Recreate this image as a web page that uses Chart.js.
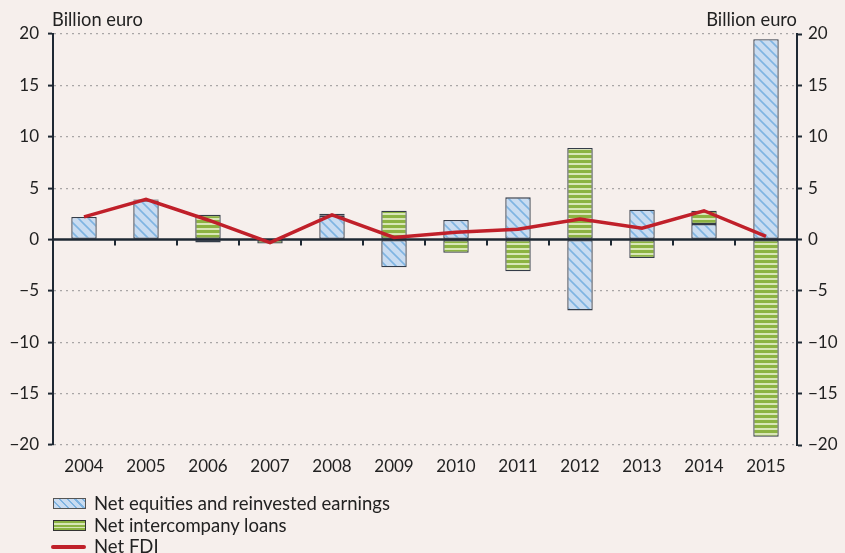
<!DOCTYPE html>
<html>
<head>
<meta charset="utf-8">
<script src="https://cdn.jsdelivr.net/npm/chart.js@4.4.1/dist/chart.umd.min.js"></script>
<style>
  body { margin: 0; background: #f6efec; font-family: Lato, "Open Sans", sans-serif; color: #222; }
  #wrap { position: relative; width: 845px; height: 553px; }
  #chart { position: absolute; left: 0; top: 0; }
  .unit { position: absolute; top: 7px; font-size: 18.3px; line-height: 24px; }
  #legend { position: absolute; left: 53px; top: 493px; font-size: 18.5px; }
  .row { height: 21.5px; line-height: 21.5px; display: flex; align-items: center; }
  .sw { width: 31px; height: 9px; margin-right: 8px; border: 1px solid #555; }
  .sw.eq { background: repeating-linear-gradient(45deg, #c9dcf1 0 4px, #7fb4e2 4px 5.5px); }
  .sw.ln { background: repeating-linear-gradient(0deg, #8cb342 0 2px, #d8e6b6 2px 3.5px); border-color: #333; }
  .sw.fdi { width: 35px; height: 3.5px; margin-left: -2px; border: none; background: #c0202a; border-radius: 2px; }
</style>
</head>
<body>
<div id="wrap">
  <canvas id="chart" width="845" height="553"></canvas>
  <div class="unit" style="left:52px">Billion euro</div>
  <div class="unit" style="right:48px">Billion euro</div>
  <div id="legend">
    <div class="row"><span class="sw eq"></span>Net equities and reinvested earnings</div>
    <div class="row"><span class="sw ln"></span>Net intercompany loans</div>
    <div class="row"><span class="sw fdi"></span>Net FDI</div>
  </div>
</div>
<script>
var years = ["2004", "2005", "2006", "2007", "2008", "2009", "2010", "2011", "2012", "2013", "2014", "2015"];
var equities = [2.2, 3.8, -0.3, 0.0, 2.3, -2.7, 1.9, 4.1, -6.9, 2.9, 1.5, 19.5];
var loans = [0.0, 0.1, 2.4, -0.4, 0.2, 2.8, -1.3, -3.1, 8.9, -1.8, 1.3, -19.2];
var netFdi = [2.2, 3.9, 1.9, -0.3, 2.4, 0.2, 0.7, 1.0, 2.0, 1.1, 2.8, 0.3];
var yTicks = [-20, -15, -10, -5, 0, 5, 10, 15, 20];

// patterns for the bars
function hatchPattern() {
  var c = document.createElement("canvas");
  c.width = 10; c.height = 10;
  var g = c.getContext("2d");
  g.fillStyle = "#c9dcf1";
  g.fillRect(0, 0, 10, 10);
  g.strokeStyle = "#7fb4e2";
  g.lineWidth = 1.6;
  g.beginPath();
  g.moveTo(-2, -2); g.lineTo(12, 12);
  g.moveTo(-2, 8); g.lineTo(2, 12);
  g.moveTo(8, -2); g.lineTo(12, 2);
  g.stroke();
  return g.createPattern(c, "repeat");
}
function stripePattern() {
  var c = document.createElement("canvas");
  c.width = 4; c.height = 5;
  var g = c.getContext("2d");
  g.fillStyle = "#8cb342";
  g.fillRect(0, 0, 4, 5);
  g.fillStyle = "#d8e6b6";
  g.fillRect(0, 3, 4, 2);
  return g.createPattern(c, "repeat");
}

var minus = function (v) { return String(v).replace("-", "\u2212"); };

var zeroAxis = {
  id: "zeroAxis",
  beforeDatasetsDraw: function (chart) {
    var ctx = chart.ctx, x = chart.scales.x, y = chart.scales.y;
    var y0 = y.getPixelForValue(0);
    ctx.save();
    ctx.strokeStyle = "#1e2833";
    ctx.lineWidth = 2.5;
    ctx.beginPath();
    ctx.moveTo(chart.chartArea.left, y0);
    ctx.lineTo(chart.chartArea.right, y0);
    ctx.stroke();
    ctx.lineWidth = 2;
    ctx.beginPath();
    for (var i = 1; i < years.length; i++) {
      var xb = (x.getPixelForValue(i - 1) + x.getPixelForValue(i)) / 2;
      ctx.moveTo(xb, y0);
      ctx.lineTo(xb, y0 + 6);
    }
    ctx.stroke();
    ctx.restore();
  }
};

var tickFont = { family: "Lato, 'Open Sans', sans-serif", size: 17 };

new Chart(document.getElementById("chart"), {
  data: {
    labels: years,
    datasets: [
      {
        type: "line",
        label: "Net FDI",
        data: netFdi,
        borderColor: "#c0202a",
        borderWidth: 3.5,
        pointRadius: 0,
        tension: 0,
        stack: "fdi",
        order: 0,
      },
      {
        type: "bar",
        label: "Net equities and reinvested earnings",
        data: equities,
        backgroundColor: hatchPattern(),
        borderColor: "#343c48",
        borderWidth: 1.3,
        borderSkipped: false,
        barPercentage: 0.41,
        categoryPercentage: 1,
        stack: "fdiParts",
        order: 1,
      },
      {
        type: "bar",
        label: "Net intercompany loans",
        data: loans,
        backgroundColor: stripePattern(),
        borderColor: "#343c48",
        borderWidth: 1.3,
        borderSkipped: false,
        barPercentage: 0.41,
        categoryPercentage: 1,
        stack: "fdiParts",
        order: 1,
      },
    ],
  },
  options: {
    responsive: false,
    animation: false,
    layout: { padding: { top: 34, bottom: 78, left: 0, right: 0 } },
    plugins: { legend: { display: false }, tooltip: { enabled: false } },
    scales: {
      x: {
        stacked: true,
        grid: { display: false },
        border: { display: false },
        ticks: { color: "#222", font: tickFont, padding: 3 },
        afterFit: function (s) { s.height = 30; },
      },
      y: {
        position: "left",
        stacked: true,
        min: -20,
        max: 20,
        afterBuildTicks: function (s) { s.ticks = yTicks.map(function (v) { return { value: v }; }); },
        ticks: { color: "#222", font: tickFont, padding: 9, callback: minus },
        grid: {
          color: function (c) { return c.tick && c.tick.value === 0 ? "rgba(0,0,0,0)" : "#a9a6a6"; },
          lineWidth: 1.2,
          tickColor: "#1e2833",
          tickLength: 5,
          tickWidth: 2,
          tickBorderDash: [],
        },
        border: { color: "#1e2833", width: 2, dash: [2, 4] },
        afterFit: function (s) { s.width = 53; },
      },
      y2: {
        position: "right",
        min: -20,
        max: 20,
        afterBuildTicks: function (s) { s.ticks = yTicks.map(function (v) { return { value: v }; }); },
        ticks: { color: "#222", font: tickFont, padding: 6, callback: minus },
        grid: { drawOnChartArea: false, tickColor: "#1e2833", tickLength: 5, tickWidth: 2 },
        border: { color: "#1e2833", width: 2 },
        afterFit: function (s) { s.width = 48; },
      },
    },
  },
  plugins: [zeroAxis],
});
</script>
</body>
</html>
